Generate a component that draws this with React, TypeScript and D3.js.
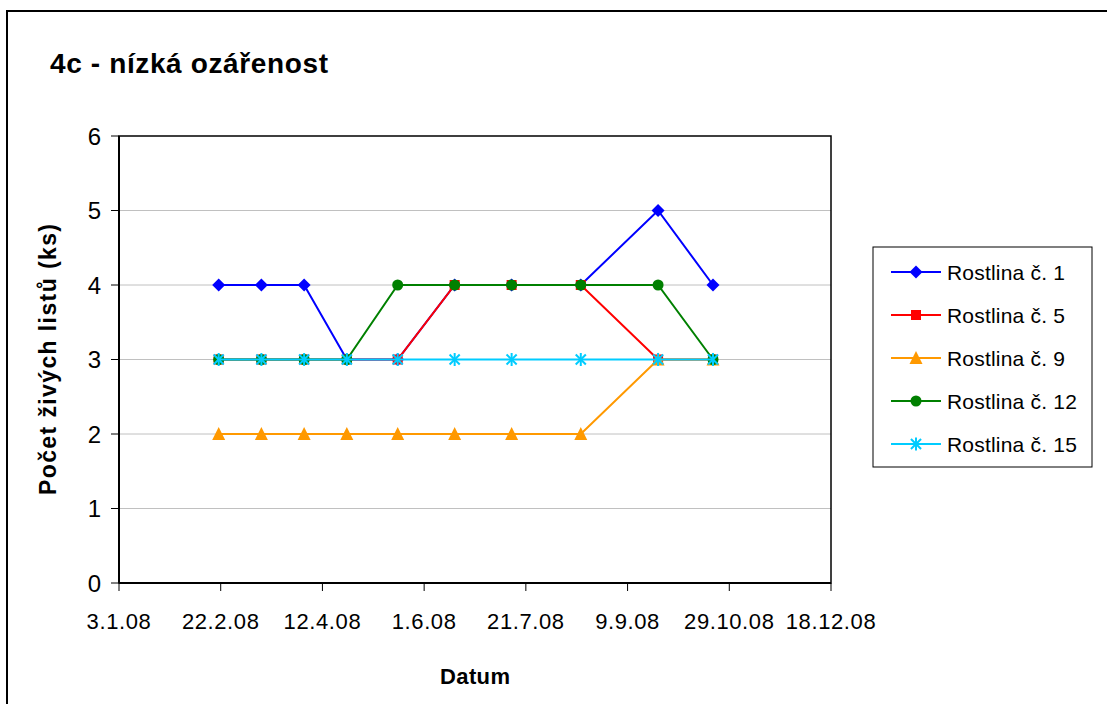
import React from "react";
import * as d3 from "d3";

// Sampling dates (2008) and leaf counts per plant
const dates = [
  "2008-02-21", "2008-03-13", "2008-04-03", "2008-04-24", "2008-05-19",
  "2008-06-16", "2008-07-14", "2008-08-17", "2008-09-24", "2008-10-21",
];
const plant1 = [4, 4, 4, 3, 3, 4, 4, 4, 5, 4];
const plant5 = [3, 3, 3, 3, 3, 4, 4, 4, 3, 3];
const plant9 = [2, 2, 2, 2, 2, 2, 2, 2, 3, 3];
const plant12 = [3, 3, 3, 3, 4, 4, 4, 4, 4, 3];
const plant15 = [3, 3, 3, 3, 3, 3, 3, 3, 3, 3];

const seriesNames = ["Rostlina č. 1", "Rostlina č. 5", "Rostlina č. 9", "Rostlina č. 12", "Rostlina č. 15"];
const seriesColors = ["#0000FF", "#FF0000", "#FF9900", "#008000", "#00CCFF"];
const seriesMarkers = ["diamond", "square", "triangle", "circle", "asterisk"];
const seriesValues = [plant1, plant5, plant9, plant12, plant15];

const xDomain = ["2008-01-03", "2008-12-18"];
const xTickStepDays = 50;
const yTicks = [0, 1, 2, 3, 4, 5, 6];

const title = "4c - nízká ozářenost";
const xTitle = "Datum";
const yTitle = "Počet živých listů (ks)";

const W = 1107;
const H = 704;
const plot = { left: 119, top: 136, right: 831, bottom: 583 };
const FONT = "'Liberation Sans', Arial, Helvetica, sans-serif";

function Marker({ type, x, y, color }: { type: string; x: number; y: number; color: string }) {
  switch (type) {
    case "diamond":
      return <path d={`M${x},${y - 6.5}L${x + 6.5},${y}L${x},${y + 6.5}L${x - 6.5},${y}Z`} fill={color} />;
    case "square":
      return <rect x={x - 5} y={y - 5} width={10} height={10} fill={color} />;
    case "triangle":
      return <path d={`M${x},${y - 7}L${x + 6.5},${y + 6}L${x - 6.5},${y + 6}Z`} fill={color} />;
    case "circle":
      return <circle cx={x} cy={y} r={5.5} fill={color} />;
    case "asterisk": {
      const r = 6.5;
      const d = r * 0.78;
      return (
        <g stroke={color} strokeWidth={2}>
          <line x1={x} y1={y - r} x2={x} y2={y + r} />
          <line x1={x - d} y1={y - d} x2={x + d} y2={y + d} />
          <line x1={x - d} y1={y + d} x2={x + d} y2={y - d} />
        </g>
      );
    }
    default:
      return null;
  }
}

export default function App() {
  const parse = d3.utcParse("%Y-%m-%d");
  const xDates = dates.map((s) => parse(s) as Date);
  const x = d3
    .scaleUtc()
    .domain(xDomain.map((s) => parse(s) as Date))
    .range([plot.left, plot.right]);
  const y = d3.scaleLinear().domain([0, 6]).range([plot.bottom, plot.top]);

  const start = parse(xDomain[0]) as Date;
  const end = parse(xDomain[1]) as Date;
  const xTicks = d3.utcDay.every(1)!.range(start, d3.utcDay.offset(end, 1)).filter(
    (d) => Math.round((+d - +start) / 86400000) % xTickStepDays === 0
  );
  const fmt = d3.utcFormat("%-d.%-m.%y");

  const line = d3
    .line<number>()
    .x((_, i) => x(xDates[i]))
    .y((v) => y(v));

  const legend = { left: 873, top: 247, right: 1092, bottom: 467, first: 272, step: 43 };

  return (
    <svg
      width={W}
      height={H}
      style={{ position: "absolute", left: 0, top: 0, background: "#fff" }}
      fontFamily={FONT}
    >
      {/* chart frame */}
      <rect x={7} y={11} width={W + 20} height={H + 20} fill="#fff" stroke="#000" strokeWidth={2} />

      <text x={50} y={73} fontSize={28} fontWeight="bold" textLength={278} lengthAdjust="spacing">
        {title}
      </text>

      {/* gridlines */}
      {yTicks
        .filter((t) => t > 0 && t < 6)
        .map((t) => (
          <line key={t} x1={plot.left} x2={plot.right} y1={y(t)} y2={y(t)} stroke="#c0c0c0" strokeWidth={1} />
        ))}

      {/* plot border */}
      <rect
        x={plot.left}
        y={plot.top}
        width={plot.right - plot.left}
        height={plot.bottom - plot.top}
        fill="none"
        stroke="#000"
        strokeWidth={1.5}
      />
      <line x1={plot.left} x2={plot.left} y1={plot.top} y2={plot.bottom} stroke="#000" strokeWidth={2} />
      <line x1={plot.left} x2={plot.right} y1={plot.bottom} y2={plot.bottom} stroke="#000" strokeWidth={2} />

      {/* y axis */}
      {yTicks.map((t) => (
        <g key={t}>
          <line x1={plot.left - 8} x2={plot.left} y1={y(t)} y2={y(t)} stroke="#000" strokeWidth={1} />
          <text x={101} y={y(t) + 8.5} fontSize={24} textAnchor="end">
            {t}
          </text>
        </g>
      ))}

      {/* x axis */}
      {xTicks.map((d) => (
        <g key={+d}>
          <line x1={x(d)} x2={x(d)} y1={plot.bottom} y2={plot.bottom + 8} stroke="#000" strokeWidth={1} />
          <text x={x(d)} y={629} fontSize={22} textAnchor="middle" letterSpacing={0.6}>
            {fmt(d)}
          </text>
        </g>
      ))}

      <text x={(plot.left + plot.right) / 2} y={684} fontSize={22} fontWeight="bold" textAnchor="middle" textLength={70} lengthAdjust="spacing">
        {xTitle}
      </text>
      <text
        transform={`translate(56, ${(plot.top + plot.bottom) / 2}) rotate(-90)`}
        fontSize={23}
        fontWeight="bold"
        textAnchor="middle"
        textLength={271}
        lengthAdjust="spacing"
      >
        {yTitle}
      </text>

      {/* series */}
      {seriesValues.map((vals, si) => (
        <g key={si}>
          <path d={line(vals) || ""} fill="none" stroke={seriesColors[si]} strokeWidth={2} />
          {vals.map((v, i) => (
            <Marker key={i} type={seriesMarkers[si]} x={x(xDates[i])} y={y(v)} color={seriesColors[si]} />
          ))}
        </g>
      ))}

      {/* legend */}
      <rect
        x={legend.left}
        y={legend.top}
        width={legend.right - legend.left}
        height={legend.bottom - legend.top}
        fill="#fff"
        stroke="#000"
        strokeWidth={1}
      />
      {seriesNames.map((name, i) => {
        const ly = legend.first + i * legend.step;
        return (
          <g key={name}>
            <line x1={891} x2={941} y1={ly} y2={ly} stroke={seriesColors[i]} strokeWidth={2} />
            <Marker type={seriesMarkers[i]} x={916} y={ly} color={seriesColors[i]} />
            <text x={947} y={ly + 7.5} fontSize={21} letterSpacing={0.2}>
              {name}
            </text>
          </g>
        );
      })}
    </svg>
  );
}
